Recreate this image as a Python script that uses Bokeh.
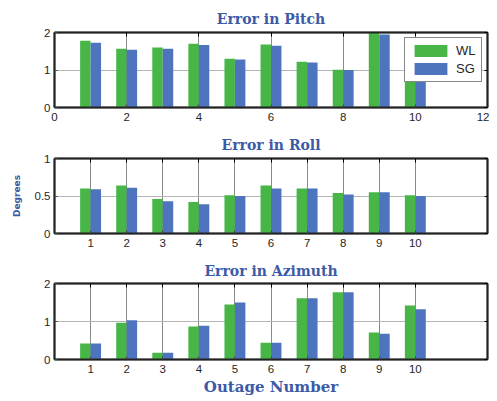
from bokeh.plotting import figure
from bokeh.layouts import column
from bokeh.models import FixedTicker, LinearAxis, Range1d, Legend, LegendItem
from bokeh.embed import file_html
from bokeh.resources import INLINE

outages = [1, 2, 3, 4, 5, 6, 7, 8, 9, 10]
pitch_wl = [1.78, 1.57, 1.60, 1.70, 1.30, 1.68, 1.22, 1.01, 2.02, 1.20]
pitch_sg = [1.73, 1.54, 1.57, 1.67, 1.28, 1.65, 1.20, 1.00, 1.95, 1.15]
roll_wl = [0.60, 0.64, 0.46, 0.42, 0.51, 0.64, 0.60, 0.54, 0.55, 0.51]
roll_sg = [0.59, 0.61, 0.43, 0.39, 0.50, 0.60, 0.60, 0.52, 0.55, 0.50]
az_wl = [0.42, 0.97, 0.18, 0.87, 1.45, 0.44, 1.61, 1.77, 0.71, 1.42]
az_sg = [0.42, 1.03, 0.18, 0.89, 1.50, 0.44, 1.61, 1.77, 0.68, 1.32]

GREEN = "#47b647"
BLUE = "#4f74be"
TITLE_BLUE = "#3c5aa6"
TXT = "#262626"


def panel(title, wl, sg, yticks, ymax, xticks, height, top, bottom,
          ylabel=None, xlabel=None, legend=False, tstand=6):
    p = figure(width=489, height=height, output_backend="svg",
               toolbar_location=None, x_range=Range1d(0, 12),
               y_range=Range1d(0, ymax), min_border_left=54,
               min_border_right=2, min_border_top=top,
               min_border_bottom=bottom)
    p.title.text = title
    p.title.align = "center"
    p.title.text_font = "DejaVu Serif"
    p.title.text_font_style = "bold"
    p.title.text_font_size = "14px"
    p.title.text_color = TITLE_BLUE
    p.title.standoff = tstand
    p.outline_line_color = "#222222"
    p.outline_line_width = 1.5

    xl = [x - 0.145 for x in outages]
    xr = [x + 0.145 for x in outages]
    r1 = p.vbar(x=xl, top=wl, width=0.29, fill_color=GREEN, line_color=None)
    r2 = p.vbar(x=xr, top=sg, width=0.29, fill_color=BLUE, line_color=None)

    bx = p.xaxis[0]
    by = p.yaxis[0]
    bx.ticker = FixedTicker(ticks=xticks)
    by.ticker = FixedTicker(ticks=yticks)
    for ax in (bx, by):
        ax.axis_line_color = "#222222"
        ax.axis_line_width = 2
        ax.major_tick_in = 3
        ax.major_tick_out = 0
        ax.minor_tick_line_color = None
        ax.major_tick_line_color = "#444444"
        ax.major_label_text_font = "Liberation Sans"
        ax.major_label_text_font_size = "11.5px"
        ax.major_label_text_color = TXT
    bx.major_label_standoff = 5
    by.major_label_standoff = 4

    if ylabel:
        by.axis_label = ylabel
        by.axis_label_text_font = "DejaVu Sans"
        by.axis_label_text_font_style = "bold"
        by.axis_label_text_font_size = "9px"
        by.axis_label_text_color = TITLE_BLUE
        by.axis_label_standoff = 10
    if xlabel:
        bx.axis_label = xlabel
        bx.axis_label_text_font = "DejaVu Serif"
        bx.axis_label_text_font_style = "bold"
        bx.axis_label_text_font_size = "15px"
        bx.axis_label_text_color = TITLE_BLUE
        bx.axis_label_standoff = 2

    top_ax = LinearAxis(ticker=FixedTicker(ticks=xticks),
                        major_label_overrides={t: "" for t in xticks},
                        major_label_text_font_size="1px",
                        major_tick_in=4, major_tick_out=0,
                        minor_tick_line_color=None,
                        axis_line_color="#222222", axis_line_width=2,
                        major_label_standoff=0)
    p.add_layout(top_ax, "above")
    right_ax = LinearAxis(ticker=FixedTicker(ticks=yticks),
                          major_label_overrides={t: "" for t in yticks},
                          major_label_text_font_size="1px",
                          major_tick_in=3, major_tick_out=0,
                          minor_tick_line_color=None,
                          axis_line_color="#222222", axis_line_width=2,
                          major_label_standoff=0)
    p.add_layout(right_ax, "right")

    p.xgrid.ticker = FixedTicker(ticks=xticks)
    p.ygrid.ticker = FixedTicker(ticks=yticks)
    p.xgrid.grid_line_color = "#8a8a8a"
    p.ygrid.grid_line_color = "#b5b5b5"
    p.xgrid.grid_line_width = 1
    p.ygrid.grid_line_width = 1.2
    p.grid.level = "underlay"

    if legend:
        lg = Legend(items=[LegendItem(label="WL", renderers=[r1]),
                           LegendItem(label="SG", renderers=[r2])],
                    location="top_right")
        lg.glyph_width = 41
        lg.glyph_height = 15
        lg.label_text_font = "Liberation Sans"
        lg.label_text_font_size = "13px"
        lg.label_text_color = TXT
        lg.border_line_color = "#111111"
        lg.border_line_width = 1.5
        lg.padding = 5
        lg.spacing = 3
        lg.margin = 5
        lg.background_fill_alpha = 1
        p.add_layout(lg, "center")
    return p


p1 = panel("Error in Pitch", pitch_wl, pitch_sg, [0, 1, 2], 2,
           [0, 2, 4, 6, 8, 10, 12], 128, 32, 21, legend=True, tstand=12)
p2 = panel("Error in Roll", roll_wl, roll_sg, [0, 0.5, 1], 1,
           outages, 125, 29, 20, ylabel="Degrees", tstand=12)
p3 = panel("Error in Azimuth", az_wl, az_sg, [0, 1, 2], 2,
           outages, 148, 30, 42, xlabel="Outage Number", tstand=9)

layout = column(p1, p2, p3, spacing=0)
open("out.html", "w").write(file_html(layout, INLINE))
